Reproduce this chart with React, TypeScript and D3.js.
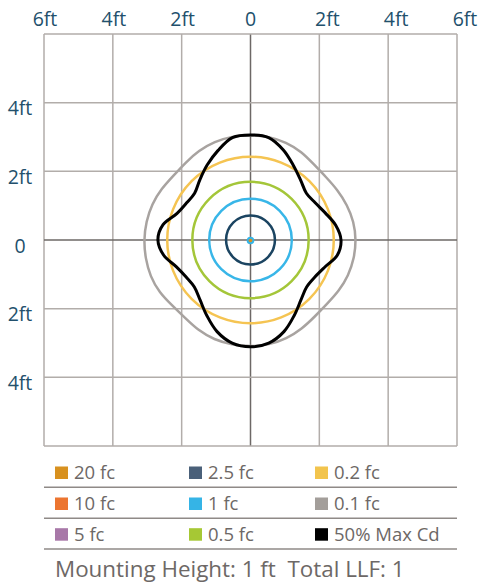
import React, { useEffect, useRef } from 'react';
import * as d3 from 'd3';

// axis ticks (ft)
const xTicks = [-6, -4, -2, 0, 2, 4, 6];
const xTickLabels = ['6ft', '4ft', '2ft', '0', '2ft', '4ft', '6ft'];
const yTicks = [4, 2, 0, -2, -4];
const yTickLabels = ['4ft', '2ft', '0', '2ft', '4ft'];

// legend, column by column
const legendLevels = ['20 fc', '10 fc', '5 fc', '2.5 fc', '1 fc', '0.5 fc', '0.2 fc', '0.1 fc', '50% Max Cd'];
const legendColors = ['#d8911f', '#ec7530', '#a878a8', '#4a6079', '#35b4e6', '#a6c834', '#f2c44d', '#a39e9a', '#000000'];

// round isolines, radius in ft
const circleLevels = ['2.5 fc', '1 fc', '0.5 fc', '0.2 fc'];
const circleRadii = [0.71, 1.2, 1.69, 2.42];
const circleColors = ['#1b4461', '#38b6e8', '#a4c639', '#f5c452'];

// polar isolines, radius in ft every 10 deg starting east, counter clockwise
const polarAngles = d3.range(0, 360, 10);
const grayRadii = [
  3.07, 3.05, 2.99, 2.92, 2.86, 2.87, 2.97, 3.03, 3.06,
  3.06, 3.07, 3.05, 3.01, 2.94, 2.92, 2.99, 3.05, 3.08,
  3.1, 3.1, 3.1, 3.06, 2.97, 2.96, 3.04, 3.09, 3.1,
  3.11, 3.1, 3.06, 2.99, 2.91, 2.9, 2.97, 3.03, 3.06,
];
const maxCdRadii = [
  2.63, 2.51, 2.31, 2.17, 2.12, 2.27, 2.5, 2.79, 3.03,
  3.06, 3.03, 2.77, 2.52, 2.29, 2.12, 2.15, 2.27, 2.58,
  2.69, 2.56, 2.29, 2.16, 2.13, 2.28, 2.54, 2.84, 3.05,
  3.11, 3.05, 2.84, 2.54, 2.28, 2.13, 2.16, 2.3, 2.56,
];

const footer = 'Mounting Height: 1 ft  Total LLF: 1';

export default function App() {
  const ref = useRef<SVGSVGElement>(null);

  useEffect(() => {
    const svg = d3.select(ref.current);
    svg.selectAll('*').remove();

    const font = '"Open Sans", sans-serif';
    const x = d3.scaleLinear().domain([-6, 6]).range([44, 457]);
    const y = d3.scaleLinear().domain([6, -6]).range([34, 446]);

    // grid
    const grid = svg.append('g');
    xTicks.forEach((t) => {
      grid.append('line')
        .attr('x1', x(t)).attr('x2', x(t))
        .attr('y1', y(6)).attr('y2', y(-6))
        .attr('stroke', t === 0 ? '#6d6866' : '#b2adaa')
        .attr('stroke-width', 1.5);
    });
    [6, 4, 2, 0, -2, -4, -6].forEach((t) => {
      grid.append('line')
        .attr('x1', x(-6)).attr('x2', x(6))
        .attr('y1', y(t)).attr('y2', y(t))
        .attr('stroke', t === 0 ? '#6d6866' : '#b2adaa')
        .attr('stroke-width', 1.5);
    });

    // tick labels
    svg.append('g').selectAll('text')
      .data(xTicks)
      .enter().append('text')
      .attr('x', (d) => x(d) + (d > 0 ? 8 : d < 0 ? 1 : 0))
      .attr('y', 26)
      .attr('text-anchor', 'middle')
      .attr('fill', '#22506c')
      .style('font-family', font)
      .style('font-size', '19.5px')
      .text((d, i) => xTickLabels[i]);

    svg.append('g').selectAll('text')
      .data(yTicks)
      .enter().append('text')
      .attr('x', 20)
      .attr('y', (d) => y(d) + 12.5)
      .attr('text-anchor', 'middle')
      .attr('fill', '#22506c')
      .style('font-family', font)
      .style('font-size', '19.5px')
      .text((d, i) => yTickLabels[i]);

    // isolines
    const iso = svg.append('g');
    const toXY = (radii: number[]) => polarAngles.map((a, i) => {
      const th = (a * Math.PI) / 180;
      return [x(radii[i] * Math.cos(th)), y(radii[i] * Math.sin(th))] as [number, number];
    });

    iso.append('path')
      .attr('d', d3.line<[number, number]>().curve(d3.curveBasisClosed)(toXY(grayRadii)))
      .attr('fill', 'none')
      .attr('stroke', '#a8a3a0')
      .attr('stroke-width', 2.5);

    circleRadii.slice().reverse().forEach((r, k) => {
      const i = circleRadii.length - 1 - k;
      iso.append('circle')
        .attr('cx', x(0)).attr('cy', y(0))
        .attr('r', x(r) - x(0))
        .attr('fill', 'none')
        .attr('stroke', circleColors[i])
        .attr('stroke-width', 2.5);
    });

    iso.append('path')
      .attr('d', d3.line<[number, number]>().curve(d3.curveCatmullRomClosed)(toXY(maxCdRadii)))
      .attr('fill', 'none')
      .attr('stroke', '#000')
      .attr('stroke-width', 3);

    // centre spot
    iso.append('circle')
      .attr('cx', x(0)).attr('cy', y(0) + 0.5)
      .attr('r', 3.8)
      .attr('fill', '#35b4e6');
    iso.append('circle')
      .attr('cx', x(0)).attr('cy', y(0) + 0.5)
      .attr('r', 1.8)
      .attr('fill', '#d8911f');

    // legend
    const leg = svg.append('g');
    const colX = [55, 189, 315];
    const rowY = [479, 510, 540.7];
    [487.3, 518.3, 549].forEach((ly) => {
      leg.append('line')
        .attr('x1', x(-6)).attr('x2', x(6))
        .attr('y1', ly).attr('y2', ly)
        .attr('stroke', '#8f8a87')
        .attr('stroke-width', 1.5);
    });
    legendLevels.forEach((lab, i) => {
      const cx = colX[Math.floor(i / 3)];
      const cy = rowY[i % 3];
      leg.append('rect')
        .attr('x', cx).attr('y', cy - 12.5)
        .attr('width', 13).attr('height', 12.5)
        .attr('fill', legendColors[i]);
      leg.append('text')
        .attr('x', cx + 19).attr('y', cy)
        .attr('fill', '#6d6866')
        .style('font-family', font)
        .style('font-size', '18.5px')
        .text(lab);
    });

    svg.append('text')
      .attr('x', 55).attr('y', 577)
      .attr('fill', '#6d6866')
      .style('font-family', font)
      .style('font-size', '22.4px')
      .style('white-space', 'pre')
      .text(footer);
  }, []);

  return (
    <svg
      ref={ref}
      width={483}
      height={585}
      style={{ position: 'absolute', left: 0, top: 0, background: '#fff' }}
    />
  );
}
